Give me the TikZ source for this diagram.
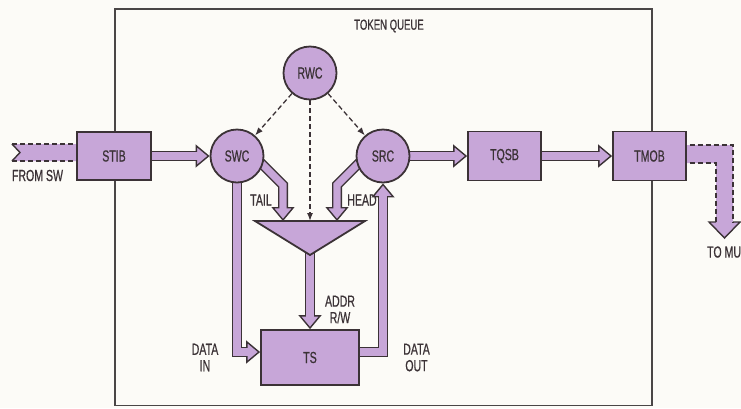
\documentclass[tikz,border=0pt]{standalone}
\usepackage{fontspec}
\setmainfont{Liberation Sans}[FakeStretch=0.66,FakeBold=0.6]
\usetikzlibrary{arrows.meta,backgrounds}
\definecolor{ink}{HTML}{3B3236}
\definecolor{lav}{HTML}{C7A6D8}
\definecolor{paper}{HTML}{FCFBF7}
\definecolor{framec}{HTML}{4A4646}
\begin{document}
\begin{tikzpicture}[x=1pt,y=-1pt,
  font=\fontsize{16}{16.5}\selectfont, text=ink,
  box/.style={draw=ink, fill=lav, line width=1.8pt, minimum width=74pt, minimum height=48pt, inner sep=0pt},
  circ/.style={circle, draw=ink, fill=lav, line width=1.8pt, minimum size=53pt, inner sep=0pt},
  band/.style={line width=10pt, draw=ink, line join=miter,
    -{Triangle[width=23pt,length=14pt,fill=lav,line width=1.4pt]},
    postaction={draw=lav, line width=7.2pt, -, shorten >=9pt}},
  ctrl/.style={draw=ink, line width=1.3pt, dash pattern=on 5pt off 3pt, -{Latex[length=8pt,width=6pt]}},
  lbl/.style={inner sep=0pt, align=center},
  dashedge/.style={draw=ink, line width=1.4pt, dash pattern=on 5pt off 3pt},
  solidedge/.style={draw=ink, line width=1.4pt, line join=miter}
]
\useasboundingbox (0,0) rectangle (741,408);

% nodes
\node[box] (STIB) at (114,156) {STIB};
\node[circ] (SWC) at (237,156) {SWC};
\node[circ] (RWC) at (310,73) {RWC};
\node[circ] (SRC) at (383,156) {SRC};
\node[box, minimum width=73pt, minimum height=49pt] (TQSB) at (504.5,156) {TQSB};
\node[box, minimum width=73pt, minimum height=49pt] (TMOB) at (649.5,156) {TMOB};
\node[box, minimum width=98pt, minimum height=55pt] (TS) at (310,357.5) {TS};

% funnel
\coordinate (ftl) at (255,221);
\coordinate (ftr) at (365,221);
\coordinate (ftip) at (310,255);
\coordinate (ftop) at (310,221);
\draw[draw=ink, fill=lav, line width=1.8pt, line join=miter] (ftl) -- (ftr) -- (ftip) -- cycle;

% helper coordinates
\coordinate (tailstart) at (255,157);
\coordinate (tailbend) at (283,185);
\coordinate (tailend) at (283,221);
\coordinate (headstart) at (365,157);
\coordinate (headbend) at (337,185);
\coordinate (headend) at (337,221);
\coordinate (addrstart) at (310,245);

\begin{scope}[on background layer]
  \fill[paper] (0,0) rectangle (741,408);
  \draw[framec, line width=1.5pt] (115,9) rectangle (652,405.5);
  % hollow arrows
  \draw[band] (STIB.center) -- (SWC);
  \draw[band] (SRC.center) -- (TQSB);
  \draw[band] (TQSB.center) -- (TMOB);
  \draw[band] (tailstart) -- (tailbend) -- (tailend);
  \draw[band] (headstart) -- (headbend) -- (headend);
  \draw[band] (addrstart) -- (TS.north);
  \draw[band] (SWC.center) |- ([yshift=5.5pt]TS.west);
  \draw[band] ([yshift=5.5pt]TS.east) -| (SRC);
  % input band from SW
  \coordinate (inTL) at (12,144);
  \coordinate (inN) at (20,152.5);
  \coordinate (inBL) at (12,161);
  \coordinate (inTR) at (114,144);
  \coordinate (inBR) at (114,161);
  \fill[lav] (inTL) -- (inTR) -- (inBR) -- (inBL) -- (inN) -- cycle;
  \draw[dashedge] (inTL) -- (inTR);
  \draw[dashedge] (inBL) -- (inBR);
  \draw[solidedge] (inTL) -- (inN) -- (inBL);
  % output band to MU
  \coordinate (oTL) at (649.5,145);
  \coordinate (oTR) at (733,145);
  \coordinate (oHR) at (733,222);
  \coordinate (oHRR) at (740,222);
  \coordinate (oTip) at (724.5,238);
  \coordinate (oHLL) at (709,222);
  \coordinate (oHL) at (716,222);
  \coordinate (oIn) at (716,163);
  \coordinate (oBL) at (649.5,163);
  \fill[lav] (oTL) -- (oTR) -- (oHR) -- (oHRR) -- (oTip) -- (oHLL) -- (oHL) -- (oIn) -- (oBL) -- cycle;
  \draw[dashedge] (oTL) -- (oTR) -- (oHR);
  \draw[dashedge] (oBL) -- (oIn) -- (oHL);
  \draw[solidedge] (oHR) -- (oHRR) -- (oTip) -- (oHLL) -- (oHL);
\end{scope}

% control (dashed) arrows
\draw[ctrl] (RWC) -- (SWC);
\draw[ctrl] (RWC) -- (SRC);
\draw[ctrl] (RWC) -- (ftop);

% labels
\node[lbl, font=\fontsize{14.5}{15}\selectfont] (tq) at (389,26) {TOKEN QUEUE};
\node[lbl] (fromsw) at (37.5,175.5) {FROM SW};
\node[lbl, anchor=west] (tomu) at (707,252) {TO MU};
\node[lbl] (tail) at (261,200) {TAIL};
\node[lbl] (head) at (362,200) {HEAD};
\node[lbl] (addr) at (340,309.5) {ADDR\\R/W};
\node[lbl] (din) at (205,357.5) {DATA\\IN};
\node[lbl] (dout) at (416.5,357.5) {DATA\\OUT};
\end{tikzpicture}
\end{document}
